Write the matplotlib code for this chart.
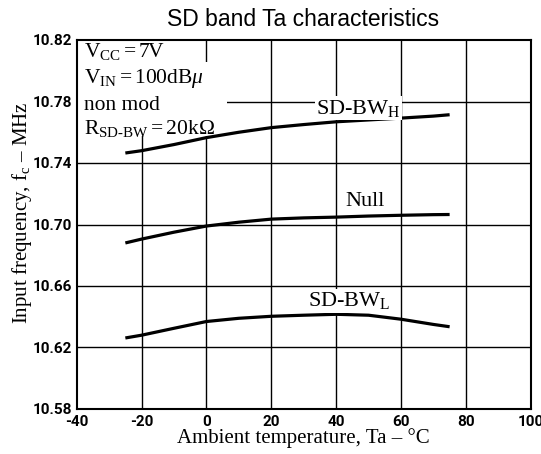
import matplotlib
matplotlib.use("Agg")
import matplotlib.pyplot as plt
from matplotlib.patches import Rectangle

plt.rcParams['mathtext.fontset'] = 'custom'
plt.rcParams['mathtext.rm'] = 'Liberation Serif'
plt.rcParams['mathtext.it'] = 'Liberation Serif:italic'
plt.rcParams['mathtext.default'] = 'rm'

# Data
ta = [-25, -20, -10, 0, 10, 20, 30, 40, 50, 60, 70, 75]
sd_bw_h = [10.7465, 10.748, 10.752, 10.7565, 10.760, 10.763, 10.765, 10.7668, 10.768, 10.7692, 10.7705, 10.7714]
null = [10.688, 10.6905, 10.695, 10.699, 10.7015, 10.7035, 10.7043, 10.7048, 10.7055, 10.706, 10.7064, 10.7065]
sd_bw_l = [10.6262, 10.628, 10.6325, 10.6369, 10.639, 10.6403, 10.641, 10.6416, 10.641, 10.6384, 10.635, 10.6335]

x_ticks = [-40, -20, 0, 20, 40, 60, 80, 100]
y_ticks = [10.58, 10.62, 10.66, 10.70, 10.74, 10.78, 10.82]
y_grid = [10.62, 10.66, 10.70, 10.74, 10.78]

W, H = 541, 454
L, R, T, B = 76.7, 530.7, 40, 409
fig = plt.figure(figsize=(W / 100, H / 100), dpi=100)
ax = fig.add_axes([L / W, 1 - B / H, (R - L) / W, (B - T) / H])

ax.set_xlim(-40, 100)
ax.set_ylim(10.58, 10.82)
ax.set_xticks(x_ticks)
ax.set_yticks(y_ticks)
tick_font = dict(fontsize=11, fontweight='bold', family='Roboto')
ax.set_xticklabels([str(v) for v in x_ticks], **tick_font)
ax.set_yticklabels(['%.2f' % v for v in y_ticks], **tick_font)
ax.tick_params(axis='x', length=0, pad=4.5)
ax.tick_params(axis='y', length=0, pad=3)

for v in x_ticks[1:-1]:
    ax.axvline(v, color='black', lw=1.0, zorder=1)
for v in y_grid:
    ax.axhline(v, color='black', lw=1.0, zorder=1)

for s in ax.spines.values():
    s.set_linewidth(1.5)

# white area behind the condition text block (gridlines are interrupted there)
ax.add_patch(Rectangle((0.0, 0.74), 0.331, 0.20, transform=ax.transAxes,
                       facecolor='white', edgecolor='none', zorder=2))
ax.add_patch(Rectangle((0.0, 0.93), 0.2, 0.07, transform=ax.transAxes,
                       facecolor='white', edgecolor='none', zorder=2))

for series in (sd_bw_h, null, sd_bw_l):
    ax.plot(ta, series, color='black', lw=2.3, zorder=3, solid_capstyle='butt')

cond = [r'$\rm V_{CC}=7V$',
        r'$\rm V_{IN}=100dB\mathit{\mu}$',
        'non mod',
        r'$\rm R_{SD\text{-}BW}=20k\Omega$']
cond_y = [0.955, 0.883, 0.810, 0.745]
for line, yy in zip(cond, cond_y):
    ax.text(0.016, yy, line, transform=ax.transAxes, ha='left', va='baseline',
            family='Liberation Serif', fontsize=15.5, zorder=4)

bb = dict(facecolor='white', edgecolor='none', pad=1)
lab = dict(family='Liberation Serif', fontsize=16, zorder=4, ha='center', va='center')
ax.text(47, 10.7757, r'SD-BW$_{\rm H}$', bbox=bb, **lab)
ax.text(49, 10.7147, 'Null', **lab)
ax.text(44, 10.6503, r'SD-BW$_{\rm L}$', bbox=bb, **lab)

ax.set_xlabel('Ambient temperature, Ta – °C', family='Liberation Serif', fontsize=15)
ax.xaxis.set_label_coords(0.5, (B - 443) / (B - T))
ax.xaxis.label.set_va('baseline')
ax.set_ylabel(r'Input frequency, f$_{\rm c}$ – MHz', family='Liberation Serif', fontsize=15)
ax.yaxis.set_label_coords((22.5 - L) / (R - L), (B - 213) / (B - T))
ax.yaxis.label.set_va('center')

fig.text(0.56, 1 - 19 / H, 'SD band Ta characteristics', ha='center', va='center',
         family='Liberation Sans', fontsize=16.5)

fig.savefig('out.png', dpi=100, facecolor='white')
